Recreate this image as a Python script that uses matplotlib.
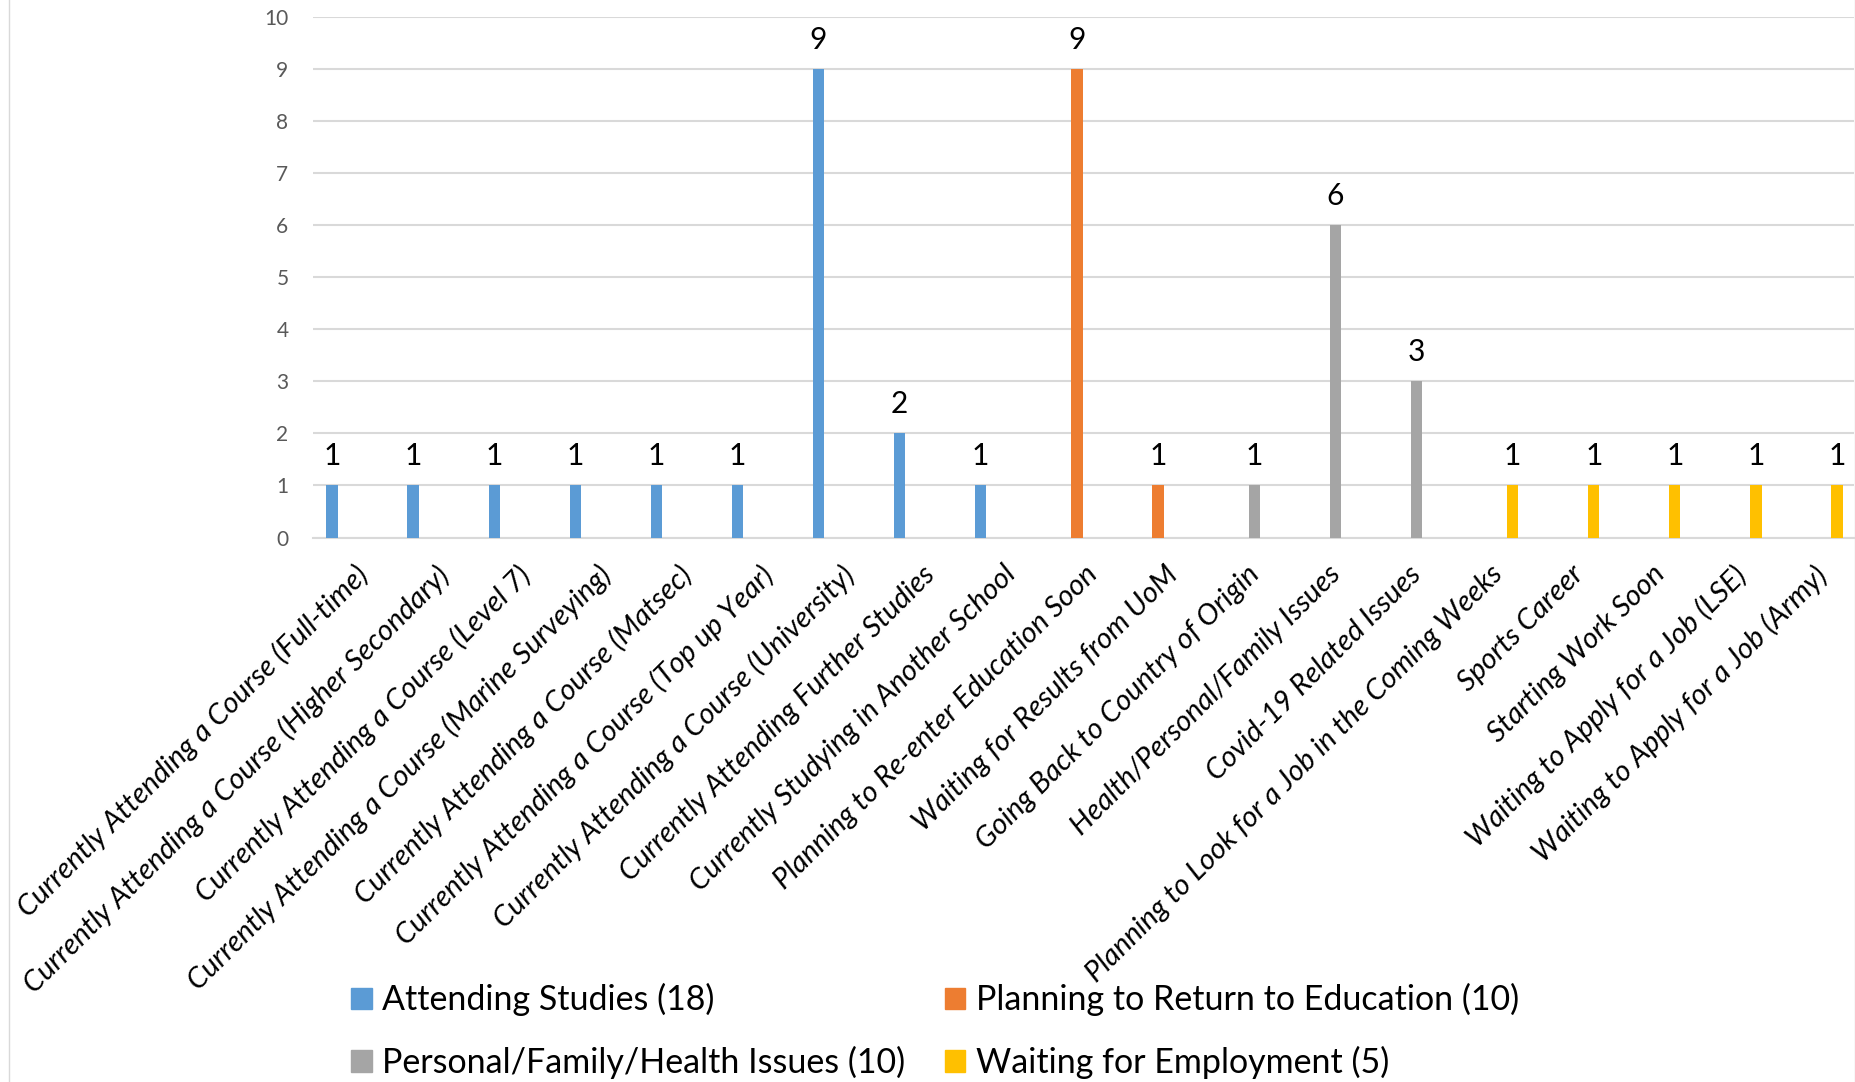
import numpy as np
import matplotlib.pyplot as plt
from matplotlib.lines import Line2D
from matplotlib.patches import Patch

plt.rcParams['font.family'] = ['Lato', 'DejaVu Sans']

# Categorias (eixo x)
categories = [
    'Currently Attending a Course (Full-time)',
    'Currently Attending a Course (Higher Secondary)',
    'Currently Attending a Course (Level 7)',
    'Currently Attending a Course (Marine Surveying)',
    'Currently Attending a Course (Matsec)',
    'Currently Attending a Course (Top up Year)',
    'Currently Attending a Course (University)',
    'Currently Attending Further Studies',
    'Currently Studying in Another School',
    'Planning to Re-enter Education Soon',
    'Waiting for Results from UoM',
    'Going Back to Country of Origin',
    'Health/Personal/Family Issues',
    'Covid-19 Related Issues',
    'Planning to Look for a Job in the Coming Weeks',
    'Sports Career',
    'Starting Work Soon',
    'Waiting to Apply for a Job (LSE)',
    'Waiting to Apply for a Job (Army)',
]
counts = [1, 1, 1, 1, 1, 1, 9, 2, 1, 9, 1, 1, 6, 3, 1, 1, 1, 1, 1]
# série de cada categoria (0..3)
series_idx = [0, 0, 0, 0, 0, 0, 0, 0, 0, 1, 1, 2, 2, 2, 3, 3, 3, 3, 3]

series_names = ['Attending Studies (18)', 'Planning to Return to Education (10)',
                'Personal/Family/Health Issues (10)', 'Waiting for Employment (5)']
series_colors = ['#5B9BD5', '#ED7D31', '#A5A5A5', '#FFC000']

fig = plt.figure(figsize=(18.56, 10.82), dpi=100)
ax = fig.add_axes([0.1689, 0.5032, 0.83, 0.4811])

x = np.arange(len(categories))
step = 0.187
width = 0.14
for i, (c, s) in enumerate(zip(counts, series_idx)):
    xpos = x[i] + (s - 1.5) * step + 0.01
    ax.bar(xpos, c, width=width, color=series_colors[s], zorder=3)
    ax.annotate(str(c), (xpos, c), xytext=(0, 11), textcoords='offset points',
                ha='center', va='bottom', fontsize=21.5, color='black')

ax.set_xlim(-0.5, len(categories) - 0.5)
ax.set_ylim(0, 10)
ax.set_yticks(range(0, 11))
ax.yaxis.grid(True, color='#d9d9d9', linewidth=1.5, zorder=0)
for sp in ['top', 'right', 'left']:
    ax.spines[sp].set_visible(False)
ax.spines['bottom'].set_color('#d9d9d9')
ax.spines['bottom'].set_linewidth(1.5)
ax.tick_params(axis='y', length=0, labelsize=15, labelcolor='#595959', pad=18)
ax.tick_params(axis='x', length=0, pad=17)
ax.set_xticks(x)
ax.set_xticklabels(categories, rotation=45, ha='right', rotation_mode='anchor',
                   fontsize=21, fontstyle='italic')

handles = [Patch(color=series_colors[k]) for k in range(4)]
order = [0, 2, 1, 3]
fig.legend([handles[k] for k in order], [series_names[k] for k in order],
           ncol=2, loc='upper left', bbox_to_anchor=(0.1728, 0.1195),
           frameon=False, fontsize=24.5, handlelength=0.6, handleheight=0.6,
           handletextpad=0.3, columnspacing=1.17, labelspacing=0.87)

# bordas do gráfico
fig.add_artist(Line2D([0.005, 0.005], [0, 1], color='#d9d9d9', linewidth=1))
fig.add_artist(Line2D([0.9995, 0.9995], [0, 1], color='#d9d9d9', linewidth=1))

plt.savefig('out.png', dpi=100)
